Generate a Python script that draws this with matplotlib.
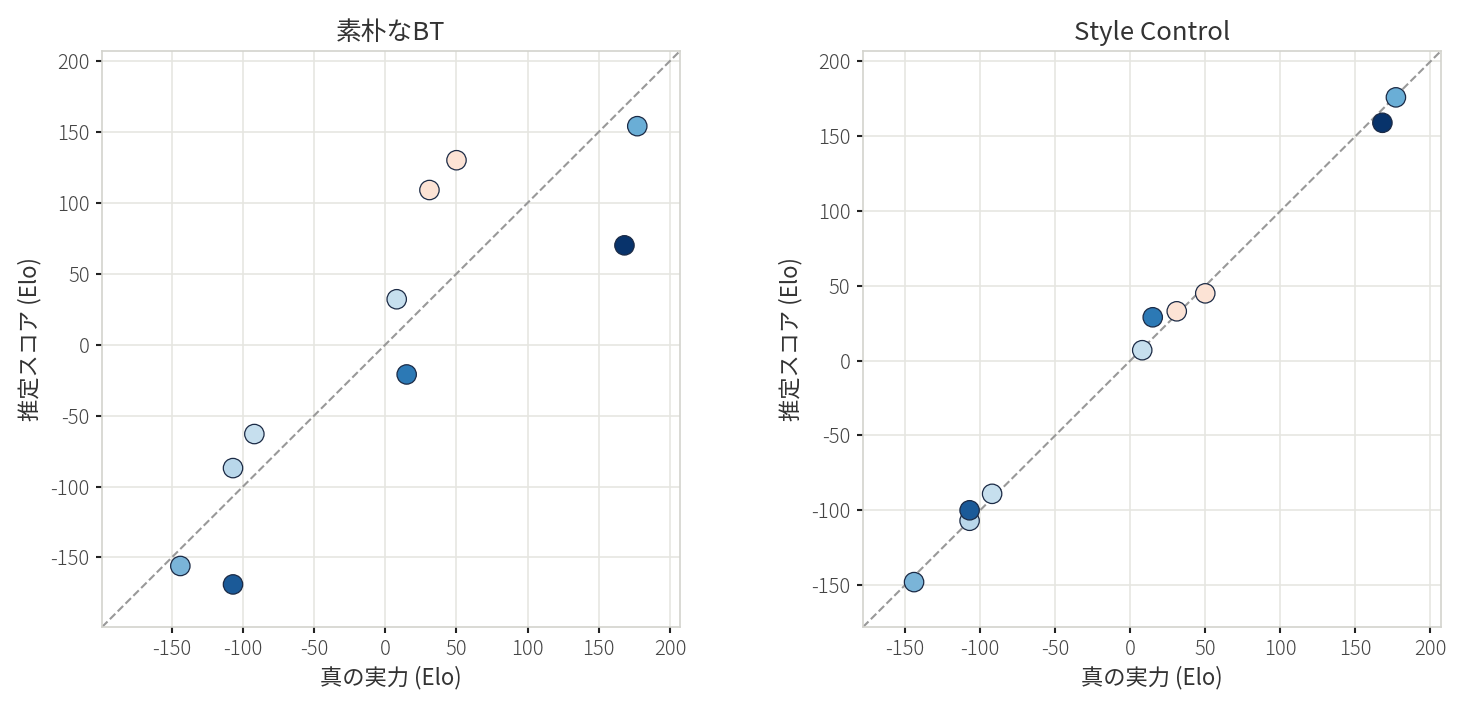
import matplotlib
matplotlib.use("Agg")
import matplotlib.pyplot as plt
import numpy as np

plt.rcParams['font.family'] = ['Noto Sans CJK JP', 'DejaVu Sans']
plt.rcParams['font.weight'] = 300
plt.rcParams['axes.unicode_minus'] = False

# true skill (x) and estimated score (y) per model
true_elo = [177, 168, 50, 31, 15, 8, -92, -107, -107, -144]
naive_bt = [154, 70, 130, 109, -21, 32, -63, -87, -169, -156]
style_ctrl = [176, 159, 45, 33, 29, 7, -89, -107, -100, -148]
colors = ['#6aaed6', '#08336b', '#fce3d5', '#fce3d5', '#2c79b5',
          '#c6dfee', '#c6dfee', '#b9d7ea', '#1b5a98', '#7ab4d8']

titles = ['素朴なBT', 'Style Control']
ticks = [-150, -100, -50, 0, 50, 100, 150, 200]

fig = plt.figure(figsize=(14.62, 7.12), dpi=100)
positions = [[0.0698, 0.1194, 0.3953, 0.809], [0.5903, 0.1194, 0.3953, 0.809]]

for pos, est, title in zip(positions, [naive_bt, style_ctrl], titles):
    ax = fig.add_axes(pos)
    allv = true_elo + est
    lo = min(allv) - 30
    hi = max(allv) + 30
    ax.plot([lo, hi], [lo, hi], ls='--', color='#999999', lw=1.5, zorder=2)
    ax.scatter(true_elo, est, s=195, c=colors, edgecolors='#1b2a45',
               linewidths=0.9, zorder=3)
    ax.set_xlim(lo, hi)
    ax.set_ylim(lo, hi)
    ax.set_xticks([t for t in ticks if lo <= t <= hi])
    ax.set_yticks([t for t in ticks if lo <= t <= hi])
    ax.grid(True, color='#e6e6e1', lw=1.2, zorder=0)
    ax.set_axisbelow(True)
    for sp in ax.spines.values():
        sp.set_color('#d3d3cd')
        sp.set_linewidth(1.2)
    ax.tick_params(length=4, width=1.5, color='#222222', labelsize=14.5,
                   labelcolor='#444444', pad=5)
    ax.set_title(title, fontsize=18.5, color='#333333', pad=8)
    ax.set_xlabel('真の実力 (Elo)', fontsize=16, color='#333333', labelpad=4)
    ax.set_ylabel('推定スコア (Elo)', fontsize=16, color='#333333', labelpad=6)

fig.savefig('out.png', dpi=100)
